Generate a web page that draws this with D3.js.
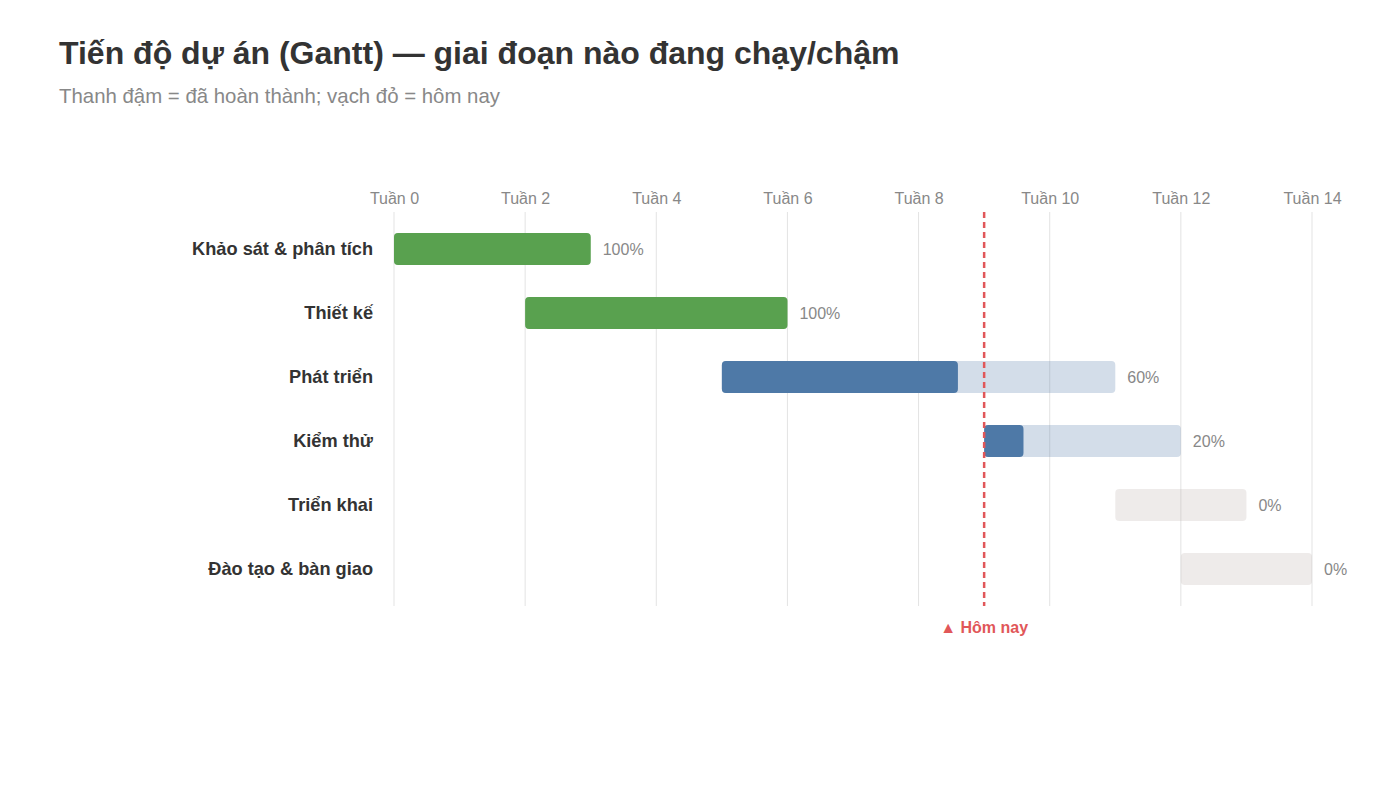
<!DOCTYPE html>
<html>
<head>
<meta charset="utf-8">
<script src="https://cdn.jsdelivr.net/npm/d3@7"></script>
<style>
  html, body { margin: 0; padding: 0; background: #fff; }
  svg { display: block; font-family: "Liberation Sans", Arial, Helvetica, sans-serif; }
</style>
</head>
<body>
<svg id="chart" width="1400" height="787"></svg>
<script>
const tasks = ["Khảo sát & phân tích", "Thiết kế", "Phát triển", "Kiểm thử", "Triển khai", "Đào tạo & bàn giao"];
const startWeek = [0, 2, 5, 9, 11, 12];
const endWeek = [3, 6, 11, 12, 13, 14];
const progress = [100, 100, 60, 20, 0, 0];
const tickWeeks = [0, 2, 4, 6, 8, 10, 12, 14];
const todayWeek = 9;

const svg = d3.select("#chart");

svg.append("text").attr("x", 59).attr("y", 64)
  .attr("font-size", 32).attr("font-weight", "bold").attr("fill", "#333")
  .text("Tiến độ dự án (Gantt) — giai đoạn nào đang chạy/chậm");
svg.append("text").attr("x", 59).attr("y", 103)
  .attr("font-size", 20.4).attr("fill", "#888")
  .text("Thanh đậm = đã hoàn thành; vạch đỏ = hôm nay");

const x = d3.scaleLinear().domain([0, 14]).range([394, 1312]);
const y = d3.scaleBand().domain(tasks).range([212, 606]).paddingInner(0.5).paddingOuter(0.328);

// grid
svg.append("g").selectAll("line").data(tickWeeks).join("line")
  .attr("x1", d => x(d)).attr("x2", d => x(d))
  .attr("y1", 212).attr("y2", 606)
  .attr("stroke", "#e3e3e3").attr("stroke-width", 1);

// top axis labels
const axis = svg.append("g").attr("transform", "translate(0,212)")
  .call(d3.axisTop(x).tickValues(tickWeeks).tickFormat(d => "Tuần " + d).tickSize(0).tickPadding(8));
axis.select(".domain").remove();
axis.selectAll("text").attr("font-size", 16).attr("fill", "#888")
  .attr("font-family", "Liberation Sans, Arial, sans-serif");

const data = tasks.map((t, i) => ({ t, s: startWeek[i], e: endWeek[i], p: progress[i] }));

function baseColor(d) {
  if (d.p >= 100) return "#59a14f";
  if (d.p > 0) return "#4e79a7";
  return "#bab0ac";
}

// background (planned) bars
svg.append("g").selectAll("rect").data(data).join("rect")
  .attr("x", d => x(d.s)).attr("y", d => y(d.t))
  .attr("width", d => x(d.e) - x(d.s)).attr("height", y.bandwidth())
  .attr("rx", 4)
  .attr("fill", baseColor)
  .attr("fill-opacity", 0.25);

// completed bars
svg.append("g").selectAll("rect").data(data.filter(d => d.p > 0)).join("rect")
  .attr("x", d => x(d.s)).attr("y", d => y(d.t))
  .attr("width", d => x(d.s + (d.e - d.s) * d.p / 100) - x(d.s)).attr("height", y.bandwidth())
  .attr("rx", 4)
  .attr("fill", baseColor);

// percent labels
svg.append("g").selectAll("text").data(data).join("text")
  .attr("x", d => x(d.e) + 12).attr("y", d => y(d.t) + y.bandwidth() / 2)
  .attr("dy", "0.35em").attr("font-size", 16).attr("fill", "#888")
  .text(d => d.p + "%");

// category labels
svg.append("g").selectAll("text").data(data).join("text")
  .attr("x", 373).attr("y", d => y(d.t) + y.bandwidth() / 2)
  .attr("dy", "0.35em").attr("text-anchor", "end")
  .attr("font-size", 18.2).attr("font-weight", "bold").attr("fill", "#333")
  .text(d => d.t);

// today line
svg.append("line")
  .attr("x1", x(todayWeek)).attr("x2", x(todayWeek))
  .attr("y1", 212).attr("y2", 606)
  .attr("stroke", "#e15759").attr("stroke-width", 2.5).attr("stroke-dasharray", "6,4");
svg.append("text")
  .attr("x", x(todayWeek)).attr("y", 633)
  .attr("text-anchor", "middle").attr("font-size", 16).attr("font-weight", "bold").attr("fill", "#e15759")
  .text("▲ Hôm nay");
</script>
</body>
</html>
